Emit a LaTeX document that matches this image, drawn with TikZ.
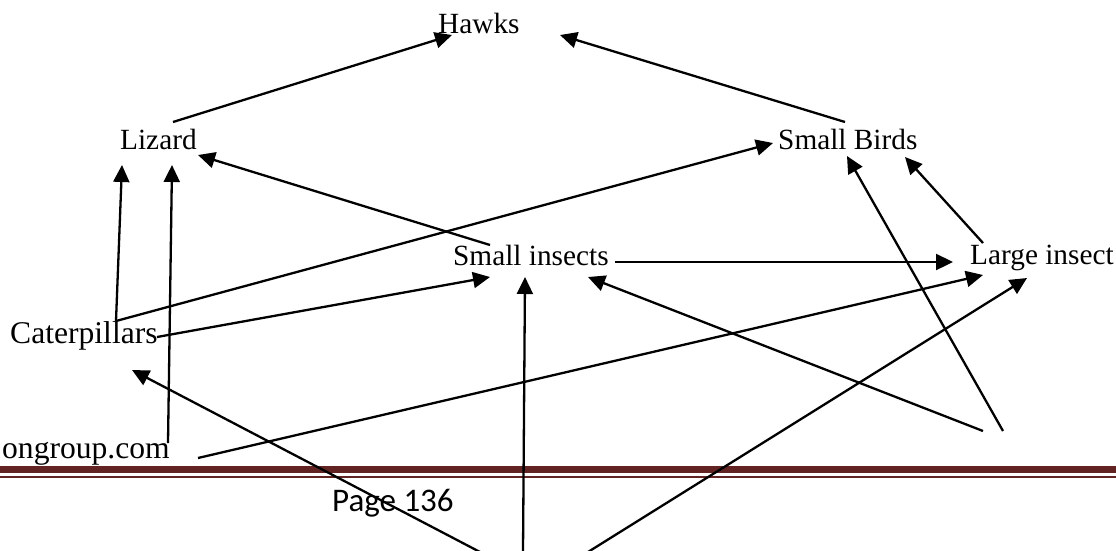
\documentclass[tikz,border=0pt]{standalone}
\usepackage{fontspec}
\setmainfont{Liberation Serif}
\newfontfamily\calfont{Carlito}
\usetikzlibrary{arrows.meta}
\definecolor{barred}{HTML}{622423}
\begin{document}
\begin{tikzpicture}[x=1pt,y=-1pt,
  lbl/.style={inner sep=0pt, anchor=base west, font=\fontsize{29.3}{34}\selectfont},
  biglbl/.style={lbl, font=\fontsize{31.6}{36}\selectfont},
  arr/.style={line width=2.3pt, -{Triangle[length=17pt,width=16pt]}},
  bar/.style={fill=barred, draw=none}]
\useasboundingbox (0,0) rectangle (1116,550);
% footer rules
\fill[bar] (0,466) rectangle (1116,473);
\fill[bar] (0,476) rectangle (1116,478);
% labels
\node[lbl] (hawks) at (438,33) {Hawks};
\node[lbl] (lizard) at (120,149) {Lizard};
\node[lbl] (birds) at (778,149) {Small Birds};
\node[lbl] (sins) at (453,265) {Small insects};
\node[lbl] (lins) at (970,264) {Large insect};
\node[biglbl] (cat) at (10,343) {Caterpillars};
\node[biglbl, anchor=base east] (web) at (170,458) {ongroup.com};
\node[inner sep=0pt, anchor=base west, font=\calfont\fontsize{33}{40}\selectfont] (page) at (332,511) {Page 136};
% attachment points
\coordinate (hawksL) at (452,35);
\coordinate (hawksR) at (560,35);
\coordinate (lizOut) at (173,122);
\coordinate (lizIn1) at (122,165);
\coordinate (lizIn2) at (172,165);
\coordinate (lizIn3) at (198,155);
\coordinate (birdsOut) at (845,122);
\coordinate (birdsIn1) at (773,143);
\coordinate (birdsIn2) at (847,156);
\coordinate (birdsIn3) at (905,157);
\coordinate (sinsOut1) at (490,245);
\coordinate (sinsOut2) at (615,262);
\coordinate (sinsIn1) at (490,277);
\coordinate (sinsIn2) at (525,277);
\coordinate (sinsIn3) at (588,277);
\coordinate (linsIn1) at (953,262);
\coordinate (linsIn2) at (983,275);
\coordinate (linsIn3) at (1027,278);
\coordinate (linsOut) at (983,243);
\coordinate (catOut1) at (116,321);
\coordinate (catOut2) at (157,337);
\coordinate (catIn) at (132,370);
\coordinate (webOut1) at (168,443);
\coordinate (webOut2) at (198,458);
\coordinate (b1) at (480,552);
\coordinate (b2) at (523,552);
\coordinate (b3) at (588,552);
\coordinate (r1) at (983,431);
\coordinate (r2) at (1003,431);
% connectors
\draw[arr] (lizOut) -- (hawksL);
\draw[arr] (birdsOut) -- (hawksR);
\draw[arr] (sinsOut1) -- (lizIn3);
\draw[arr] (catOut1) -- (birdsIn1);
\draw[arr] (catOut1) -- (lizIn1);
\draw[arr] (webOut1) -- (lizIn2);
\draw[arr] (catOut2) -- (sinsIn1);
\draw[arr] (sinsOut2) -- (linsIn1);
\draw[arr] (webOut2) -- (linsIn2);
\draw[arr] (b1) -- (catIn);
\draw[arr] (b2) -- (sinsIn2);
\draw[arr] (b3) -- (linsIn3);
\draw[arr] (r1) -- (sinsIn3);
\draw[arr] (r2) -- (birdsIn2);
\draw[arr] (linsOut) -- (birdsIn3);
\end{tikzpicture}
\end{document}
